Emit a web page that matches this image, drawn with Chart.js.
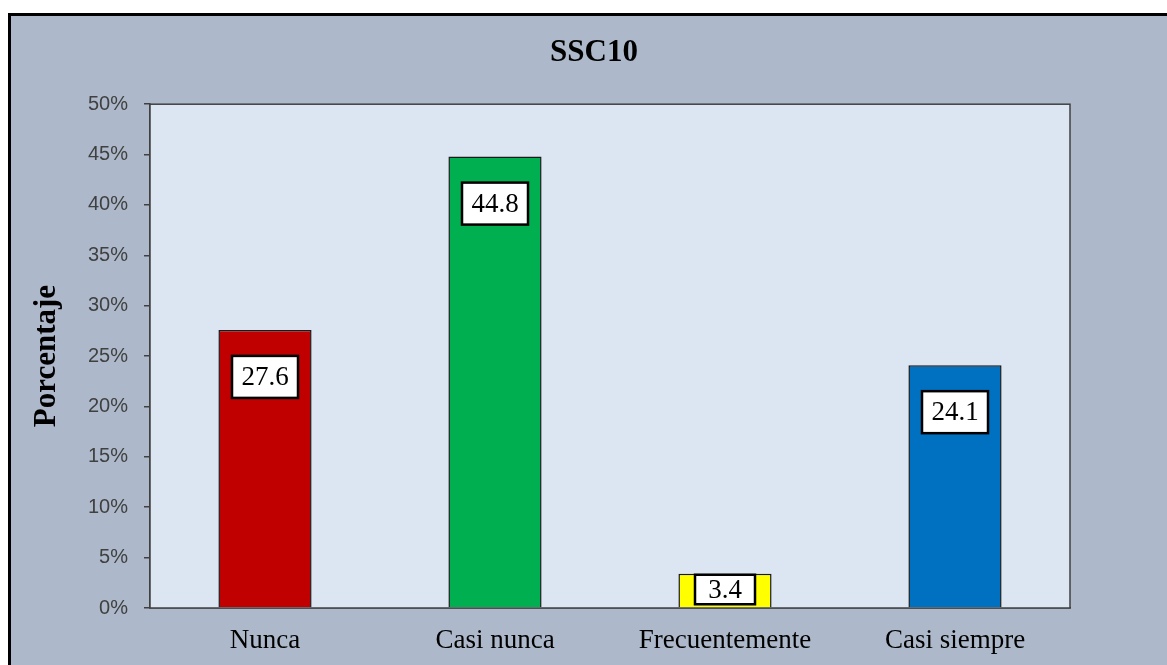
<!DOCTYPE html>
<html>
<head>
<meta charset="utf-8">
<script src="https://cdn.jsdelivr.net/npm/chart.js@4"></script>
<style>
  html, body { margin: 0; padding: 0; background: #fff; overflow: hidden; }
  #box {
    position: absolute; left: 8px; top: 13px;
    width: 1166px; height: 660px;
    border: 3px solid #000; background: #adb9ca;
  }
</style>
</head>
<body>
<div id="box"><canvas id="myChart" width="1166" height="660"></canvas></div>
<script>
const categories = ['Nunca', 'Casi nunca', 'Frecuentemente', 'Casi siempre']
const percentages = [27.6, 44.8, 3.4, 24.1]
const colors = ['#c00000', '#00b050', '#ffff00', '#0070c0']
const yTicks = [0, 5, 10, 15, 20, 25, 30, 35, 40, 45, 50]

// fondo y borde del area de trazado
const plotArea = {
    id: 'plotArea',
    beforeDatasetsDraw(chart) {
        const a = chart.chartArea
        const ctx = chart.ctx
        ctx.save()
        ctx.fillStyle = '#dce6f2'
        ctx.fillRect(a.left, a.top, a.right - a.left, a.bottom - a.top)
        ctx.strokeStyle = '#404040'
        ctx.lineWidth = 1.5
        ctx.strokeRect(a.left, a.top, a.right - a.left, a.bottom - a.top)
        ctx.restore()
    }
}

// etiquetas en cajas blancas dentro de cada barra
const boxLabels = {
    id: 'boxLabels',
    afterDatasetsDraw(chart) {
        const ctx = chart.ctx
        const meta = chart.getDatasetMeta(0)
        ctx.save()
        ctx.font = '27px "Liberation Serif"'
        ctx.textAlign = 'center'
        ctx.textBaseline = 'middle'
        meta.data.forEach(function(bar, i) {
            let top = bar.y + 26
            let bottom = top + 42
            let w = 66
            if (bottom > bar.base - 3) {
                top = bar.y + 1
                bottom = bar.base - 3
                w = 60
            }
            ctx.fillStyle = '#fff'
            ctx.fillRect(bar.x - w / 2, top, w, bottom - top)
            ctx.strokeStyle = '#000'
            ctx.lineWidth = 2.5
            ctx.strokeRect(bar.x - w / 2, top, w, bottom - top)
            ctx.fillStyle = '#000'
            ctx.fillText(percentages[i].toFixed(1), bar.x, (top + bottom) / 2 + 1)
        })
        ctx.restore()
    }
}

const data = {
    labels: categories,
    datasets: [{
        label: 'SSC10',
        data: percentages,
        backgroundColor: colors,
        borderColor: '#1a1a1a',
        borderWidth: 1.5,
        categoryPercentage: 1,
        barPercentage: 0.405
    }]
}

const config = {
    type: 'bar',
    data: data,
    options: {
        responsive: false,
        animation: false,
        layout: { padding: 0 },
        plugins: {
            legend: { display: false },
            tooltip: { enabled: false },
            title: {
                display: true,
                text: 'SSC10',
                color: '#000',
                font: { family: 'Liberation Serif', size: 31, weight: 'bold' },
                padding: { top: 18, bottom: 33 }
            }
        },
        scales: {
            x: {
                grid: { display: false, drawTicks: false },
                border: { display: true, color: '#404040', width: 1.5 },
                ticks: {
                    color: '#000',
                    padding: 17,
                    font: { family: 'Liberation Serif', size: 27 }
                },
                afterFit(scale) { scale.height = 68 }
            },
            y: {
                min: 0,
                max: 50,
                afterBuildTicks(scale) {
                    scale.ticks = yTicks.map(v => ({ value: v }))
                },
                grid: { drawOnChartArea: false, drawTicks: true, tickLength: 6, color: '#404040', lineWidth: 1.5 },
                border: { display: true, color: '#404040', width: 1.5 },
                ticks: {
                    color: '#404040',
                    padding: 16,
                    font: { family: 'Liberation Sans', size: 20 },
                    callback: v => v + '%'
                },
                title: {
                    display: true,
                    text: 'Porcentaje',
                    color: '#000',
                    font: { family: 'Liberation Serif', size: 31, weight: 'bold' },
                    padding: { top: 17, bottom: 0 }
                },
                afterFit(scale) { scale.width = 139 }
            },
            // margen derecho vacio, para que el titulo quede centrado en todo el grafico
            yRight: {
                position: 'right',
                min: 0,
                max: 50,
                grid: { display: false },
                border: { display: false },
                ticks: { display: false },
                afterFit(scale) { scale.width = 107 }
            }
        }
    },
    plugins: [plotArea, boxLabels]
}

let myChart = new Chart(document.getElementById('myChart'), config)
</script>
</body>
</html>
